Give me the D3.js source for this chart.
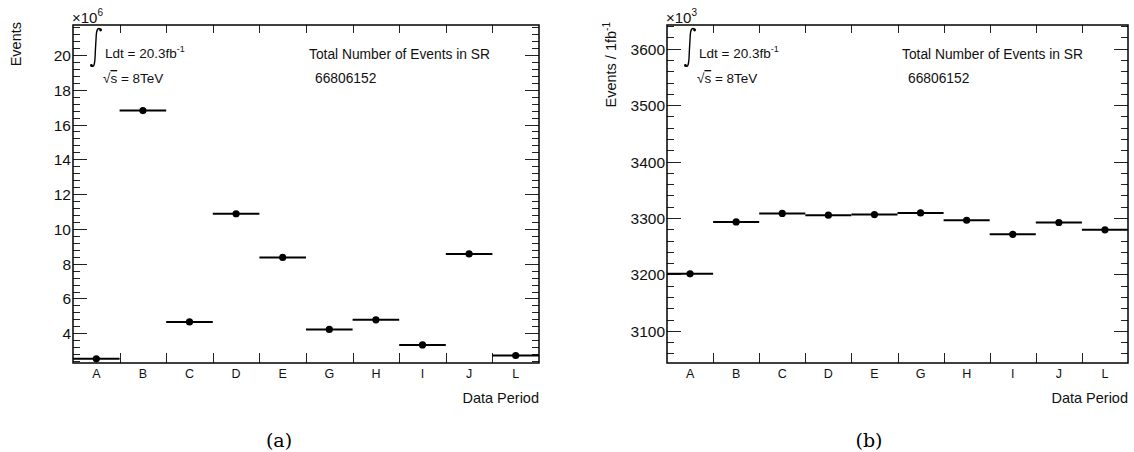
<!DOCTYPE html>
<html>
<head>
<meta charset="utf-8">
<script src="https://cdn.jsdelivr.net/npm/d3@7"></script>
<style>
  body { margin: 0; background: #fff; }
  svg { display: block; font-family: "Liberation Sans", Arial, sans-serif; }
</style>
</head>
<body>
<svg id="chart" width="1134" height="452"></svg>
<script>
// data periods
const periods = ["A", "B", "C", "D", "E", "G", "H", "I", "J", "L"];
// (a) events per period, x10^6
const eventsMillions = [2.53, 16.80, 4.65, 10.87, 8.36, 4.22, 4.77, 3.33, 8.56, 2.72];
// (b) events per 1 fb^-1, x10^3
const eventsPerFb = [3201, 3293, 3308, 3305, 3306, 3309, 3296, 3271, 3292, 3279];
// y tick labels
const ticksA = [4, 6, 8, 10, 12, 14, 16, 18, 20];
const ticksB = [3100, 3200, 3300, 3400, 3500, 3600];
const totalEvents = "66806152";

const svg = d3.select("#chart");

function drawPanel(cfg) {
  const g = svg.append("g");
  const x = d3.scaleBand().domain(periods).range([cfg.left, cfg.right]).paddingInner(0).paddingOuter(0);
  const y = d3.scaleLinear().domain(cfg.yDomain).range([cfg.bottom, cfg.top]);

  // minor ticks, both sides
  const minors = d3.range(Math.ceil(cfg.yDomain[0] / cfg.minorStep) * cfg.minorStep, cfg.yDomain[1], cfg.minorStep);
  minors.forEach(v => {
    const yy = Math.round(y(v)) + 0.5;
    g.append("line").attr("x1", cfg.left).attr("x2", cfg.left + 7).attr("y1", yy).attr("y2", yy)
      .attr("stroke", "#222").attr("stroke-width", 1);
    g.append("line").attr("x1", cfg.right).attr("x2", cfg.right - 7).attr("y1", yy).attr("y2", yy)
      .attr("stroke", "#222").attr("stroke-width", 1);
  });
  // major ticks + labels
  cfg.ticks.forEach(v => {
    const yy = Math.round(y(v)) + 0.5;
    g.append("line").attr("x1", cfg.left).attr("x2", cfg.left + 14).attr("y1", yy).attr("y2", yy)
      .attr("stroke", "#222").attr("stroke-width", 1);
    g.append("line").attr("x1", cfg.right).attr("x2", cfg.right - 14).attr("y1", yy).attr("y2", yy)
      .attr("stroke", "#222").attr("stroke-width", 1);
    g.append("text").attr("x", cfg.left - 2).attr("y", yy + 5.5)
      .attr("text-anchor", "end").attr("font-size", 15.5).attr("fill", "#111").text(v);
  });

  // x ticks at bin edges (bottom up, top down)
  periods.slice(1).forEach(p => {
    const xx = Math.round(x(p)) + 0.5;
    g.append("line").attr("x1", xx).attr("x2", xx).attr("y1", cfg.bottom).attr("y2", cfg.bottom - 10)
      .attr("stroke", "#222");
    g.append("line").attr("x1", xx).attr("x2", xx).attr("y1", cfg.top).attr("y2", cfg.top + 8)
      .attr("stroke", "#222");
  });
  periods.forEach(p => {
    g.append("text").attr("x", x(p) + x.bandwidth() / 2).attr("y", cfg.bottom + 15)
      .attr("text-anchor", "middle").attr("font-size", 12.5).attr("fill", "#111").text(p);
  });

  // frame
  g.append("rect").attr("x", cfg.left).attr("y", cfg.top)
    .attr("width", cfg.right - cfg.left).attr("height", cfg.bottom - cfg.top)
    .attr("fill", "none").attr("stroke", "#000").attr("stroke-width", 1.5);

  // points with bin-width bars
  cfg.values.forEach((v, i) => {
    const p = periods[i];
    g.append("line").attr("x1", x(p)).attr("x2", x(p) + x.bandwidth())
      .attr("y1", y(v)).attr("y2", y(v)).attr("stroke", "#000").attr("stroke-width", 2);
    g.append("circle").attr("cx", x(p) + x.bandwidth() / 2).attr("cy", y(v)).attr("r", 3.6).attr("fill", "#000");
  });

  // exponent label
  const ex = g.append("text").attr("x", cfg.left - 1).attr("y", cfg.top - 2).attr("font-size", 15).attr("fill", "#111");
  ex.append("tspan").text("\u00d710");
  ex.append("tspan").attr("font-size", 10).attr("dy", -7).text(cfg.exponent);

  // y title
  const yt = g.append("text").attr("transform", `translate(${cfg.yTitleX},${cfg.top - 3}) rotate(-90)`)
    .attr("text-anchor", "end").attr("font-size", 14.5).attr("fill", "#111");
  yt.append("tspan").text(cfg.yTitle);
  if (cfg.yTitleSup) yt.append("tspan").attr("font-size", 10).attr("dy", -6).text(cfg.yTitleSup);

  // x title
  g.append("text").attr("x", cfg.right).attr("y", cfg.bottom + 40)
    .attr("text-anchor", "end").attr("font-size", 14.5).attr("fill", "#111").text("Data Period");

  // luminosity block: integral sign drawn as a path
  const lx = cfg.left + cfg.lumiOffset;
  g.append("path")
    .attr("d", `M${lx - 1},${65} C${lx + 2},${69} ${lx + 3},${64} ${lx + 3.3},${52} L${lx + 4.2},${36} C${lx + 4.6},${28} ${lx + 7},${27} ${lx + 9},${30}`)
    .attr("fill", "none").attr("stroke", "#000").attr("stroke-width", 1.4);
  g.append("circle").attr("cx", lx - 0.6).attr("cy", 65.5).attr("r", 1.4).attr("fill", "#000");
  g.append("circle").attr("cx", lx + 8.6).attr("cy", 30).attr("r", 1.4).attr("fill", "#000");

  const lt = g.append("text").attr("x", lx + 13).attr("y", 58).attr("font-size", 13.5).attr("fill", "#111");
  lt.append("tspan").text("Ldt = 20.3fb");
  lt.append("tspan").attr("font-size", 9).attr("dy", -6).text("-1");
  const st = g.append("text").attr("x", lx + 11).attr("y", 83).attr("font-size", 13.5).attr("fill", "#111");
  st.append("tspan").text("\u221a");
  st.append("tspan").attr("text-decoration", "overline").text("s");
  st.append("tspan").text(" = 8TeV");

  // total events
  g.append("text").attr("x", cfg.totalX).attr("y", 59).attr("font-size", 13.8).attr("fill", "#111")
    .text("Total Number of Events in SR");
  g.append("text").attr("x", cfg.totalX + 6).attr("y", 83).attr("font-size", 13.8).attr("fill", "#111")
    .text(totalEvents);

  // caption
  g.append("text").attr("x", cfg.captionX).attr("y", 447).attr("text-anchor", "middle")
    .attr("font-family", "DejaVu Serif, Liberation Serif, serif").attr("font-size", 19).attr("fill", "#000")
    .text(cfg.caption);
}

drawPanel({
  left: 73, right: 539, top: 25, bottom: 363,
  yDomain: [2.29, 21.72], minorStep: 0.4, ticks: ticksA, values: eventsMillions,
  exponent: "6", yTitle: "Events", yTitleSup: null, yTitleX: 21,
  lumiOffset: 19, totalX: 309, captionX: 279, caption: "(a)"
});

drawPanel({
  left: 667, right: 1128, top: 25, bottom: 363,
  yDomain: [3043, 3642], minorStep: 20, ticks: ticksB, values: eventsPerFb,
  exponent: "3", yTitle: "Events / 1fb", yTitleSup: "-1", yTitleX: 616,
  lumiOffset: 19, totalX: 902, captionX: 869, caption: "(b)"
});
</script>
</body>
</html>
